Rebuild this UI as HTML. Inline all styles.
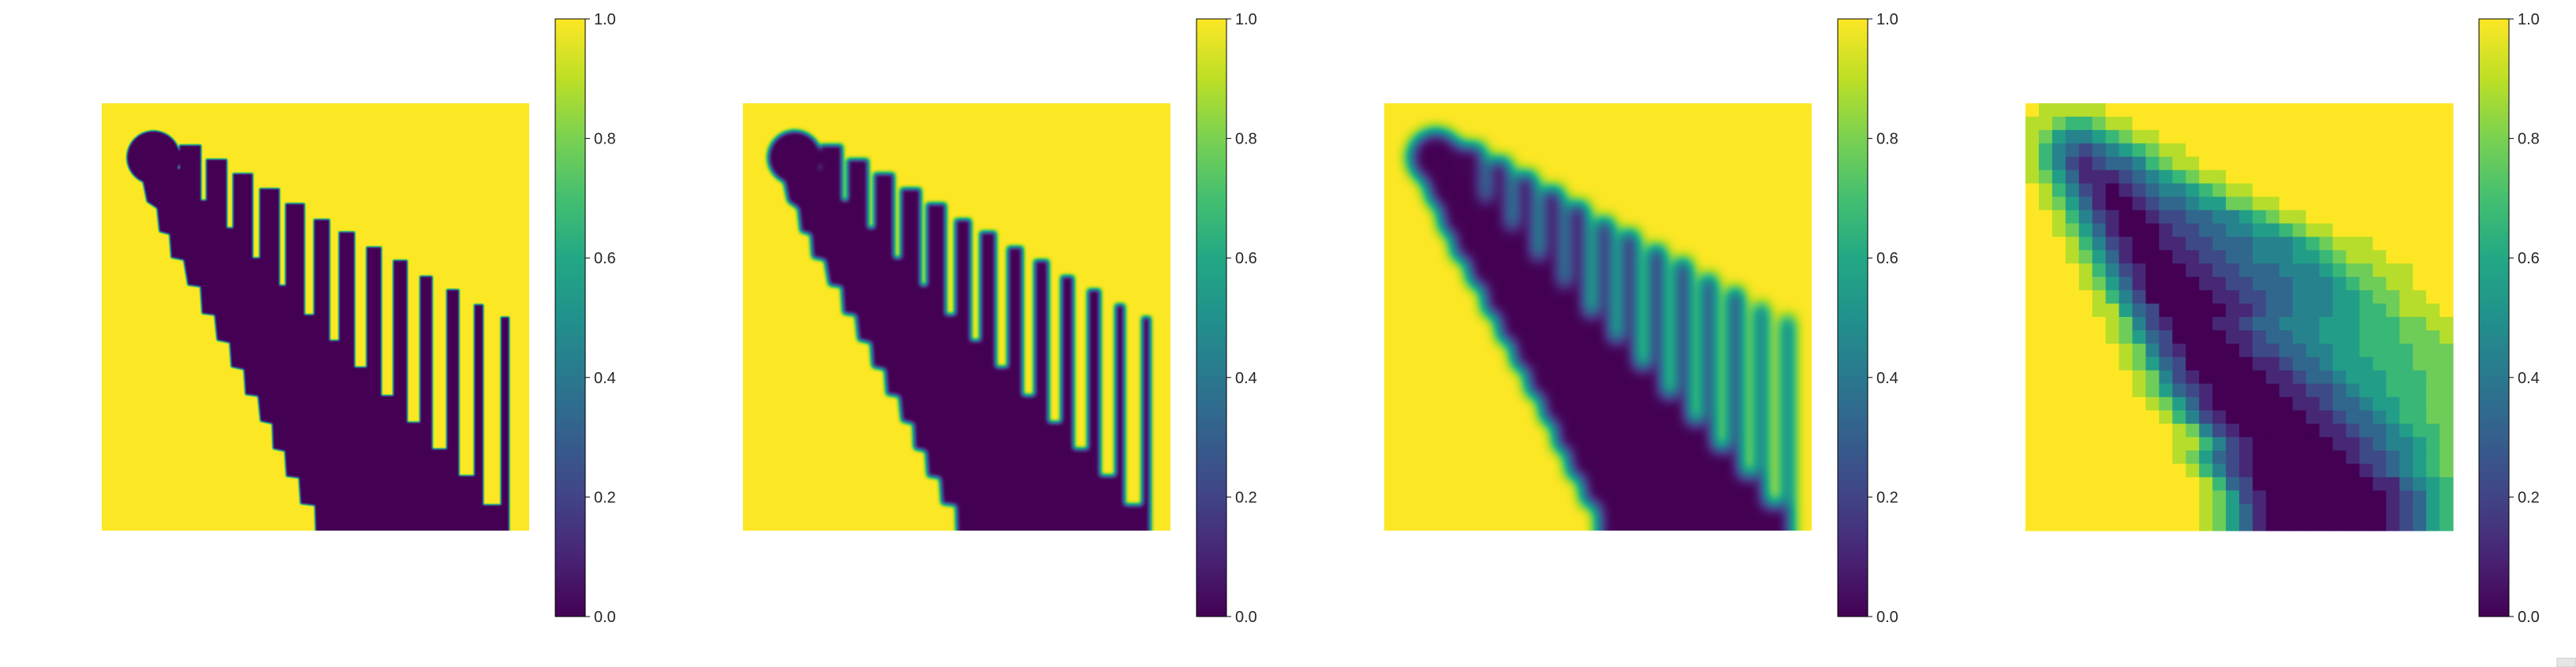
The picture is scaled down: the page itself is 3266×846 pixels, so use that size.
<!DOCTYPE html>
<html><head><meta charset="utf-8"><style>
html,body{margin:0;padding:0;background:#fff;}
svg{display:block;}
text{font-family:"Liberation Sans",sans-serif;font-size:20px;fill:#262626;}
</style></head><body>
<svg id="fig" width="3266" height="846" viewBox="0 0 3266 846" xmlns="http://www.w3.org/2000/svg">
<defs>
<linearGradient id="vir" x1="0" y1="1" x2="0" y2="0">
<stop offset="0" stop-color="#440154"/><stop offset="0.1" stop-color="#482475"/><stop offset="0.2" stop-color="#414487"/><stop offset="0.3" stop-color="#355f8d"/><stop offset="0.4" stop-color="#2a788e"/><stop offset="0.5" stop-color="#21918c"/><stop offset="0.6" stop-color="#22a884"/><stop offset="0.7" stop-color="#44bf70"/><stop offset="0.8" stop-color="#7ad151"/><stop offset="0.9" stop-color="#bddf26"/><stop offset="1" stop-color="#fde725"/>
</linearGradient>
</defs>
<rect x="3242" y="835" width="24" height="11" fill="#e6e6e6" stroke="#c8c8c8"/>
</svg>
<script>
// ---- data (image units: 0..512 grid) ----
const circleCenterX = 62, circleCenterY = 65, circleRadius = 32;
const edgeX = [49,54,66,69,81,83,98,103,118,120,135,138,153,155,170,172,187,190,204,205,219,221,236,238,255,256];
const edgeY = [93,118,126,154,157,185,188,218,220,252,254,284,287,316,319,349,351,381,384,414,417,447,449,480,482,512];
const gapLeft   = [88,119,150,181,213,243,273,303,335,366,396,428,457,488];
const gapRight  = [93,125,157,189,220,254,284,317,349,381,413,446,478,512];
const gapBottom = [78,116,149,185,218,253,284,316,350,382,414,446,481,512];
const fingerTop = [50,67,84,102,120,139,154,172,188,207,223,241,256];
const blurLevels = [1.1, 2.8, 8.5];
// coarse 32x32 field for last panel (digit d -> value d/9)
const coarseRows = [
"98888899999999999999999999999999",
"88766788999999999999999999999999",
"87544567889999999999999999999999",
"86432345678899999999999999999999",
"86421233467889999999999999999999",
"87531112345678899999999999999999",
"98642101234456788999999999999999",
"98753100123345577889999999999999",
"99864210012233445678899999999999",
"99875310001223344556788999999999",
"99986421001122333444567888999999",
"99987531000112233444556788899999",
"99998642100011223334445677888999",
"99998753100001122333444567788999",
"99999864200000112233444556778899",
"99999885320000011233444556678889",
"99999987421000112334445556667788",
"99999987532000011233445556667778",
"99999998742100001223344556666777",
"99999998753200000112334555666777",
"99999999874210000011233455566677",
"99999999875321000001122345566677",
"99999999987531000000112334556677",
"99999999998642100000011233456677",
"99999999999874210000001123345667",
"99999999999886421000000112344567",
"99999999999875321000000012234567",
"99999999999986421000000001234567",
"99999999999998632000000000113456",
"99999999999998752100000000012356",
"99999999999998753100000000012356",
"99999999999998753100000000012356"];
const tickValues = [0,0.2,0.4,0.6,0.8,1.0];
const tickLabels = ["0.0","0.2","0.4","0.6","0.8","1.0"];

const NS="http://www.w3.org/2000/svg";
const svg=document.getElementById('fig');
const defs=svg.querySelector('defs');
const panelLeft=k=>129+813*k, panelTop=131, panelSize=542;
const sc=panelSize/512;
const sx=u=>u*sc, sy=v=>v*sc;
const cbLeft=k=>704+813*k, cbTop=24, cbH=758, cbW=38;
const cbY=v=>cbTop+cbH*(1-v);
const VIR=[[68,1,84],[72,36,117],[65,68,135],[53,95,141],[42,120,142],[33,145,140],[34,168,132],[68,191,112],[122,209,81],[189,223,38],[253,231,37]];
function viridis(t){t=Math.max(0,Math.min(1,t));const f=t*10,i=Math.min(9,Math.floor(f)),r=f-i;const a=VIR[i],b=VIR[i+1];
return 'rgb('+a.map((c,j)=>Math.round(c+(b[j]-c)*r)).join(',')+')';}
function el(tag,attrs,parent){const e=document.createElementNS(NS,tag);for(const k in attrs)e.setAttribute(k,attrs[k]);(parent||svg).appendChild(e);return e;}

function shapePath(){
  let d='M'+sx(edgeX[0])+','+sy(edgeY[0]);
  for(let i=1;i<edgeX.length;i++) d+=' L'+sx(edgeX[i])+','+sy(edgeY[i]);
  d+=' L'+sx(edgeX[edgeX.length-1])+','+sy(540);
  const n=gapLeft.length;
  d+=' L'+sx(gapLeft[n-1])+','+sy(540);
  for(let k=n-2;k>=0;k--){
    d+=' L'+sx(gapLeft[k+1])+','+sy(fingerTop[k]);
    d+=' L'+sx(gapRight[k])+','+sy(fingerTop[k]);
    d+=' L'+sx(gapRight[k])+','+sy(gapBottom[k]);
    d+=' L'+sx(gapLeft[k])+','+sy(gapBottom[k]);
    d+=' L'+sx(gapLeft[k])+','+sy(fingerTop[0]);
  }
  return d+' Z';
}
const RT="0.267 0.282 0.255 0.208 0.165 0.129 0.133 0.267 0.478 0.741 0.992";
const GT="0.004 0.141 0.267 0.373 0.471 0.569 0.659 0.749 0.820 0.875 0.906";
const BT="0.329 0.459 0.529 0.553 0.557 0.549 0.518 0.439 0.318 0.149 0.145";

for(let k=0;k<3;k++){
  const f=el('filter',{id:'f'+k,x:'-0.1',y:'-0.1',width:'1.2',height:'1.2','color-interpolation-filters':'sRGB'},defs);
  el('feGaussianBlur',{stdDeviation:sx(blurLevels[k])},f);
  const ct=el('feComponentTransfer',{},f);
  el('feFuncR',{type:'table',tableValues:RT},ct);
  el('feFuncG',{type:'table',tableValues:GT},ct);
  el('feFuncB',{type:'table',tableValues:BT},ct);
  const cp=el('clipPath',{id:'c'+k},defs);
  el('rect',{x:0,y:0,width:panelSize,height:panelSize},cp);
  const outer=el('g',{transform:'translate('+panelLeft(k)+','+panelTop+')','clip-path':'url(#c'+k+')'});
  
  
  const g=el('g',{filter:'url(#f'+k+')'},outer);
  el('rect',{x:-40,y:-40,width:panelSize+80,height:panelSize+80,fill:'#fff'},g);
  const c=el('circle',{cx:sx(circleCenterX),cy:sy(circleCenterY),r:sx(circleRadius),fill:'#000'},g);
  
  
  const p=el('path',{d:shapePath(),fill:'#000'},g);
  
  
}
// panel 4 coarse grid
{
  const g=el('g',{transform:'translate('+panelLeft(3)+','+panelTop+')'});
  
  
  const nR=coarseRows.length, cs=panelSize/nR;
  coarseRows.forEach((row,r)=>{for(let c=0;c<row.length;c++){
    const v=parseInt(row[c])/9;
    const cell=el('rect',{x:(c*cs).toFixed(2),y:(r*cs).toFixed(2),width:(cs+0.6).toFixed(2),height:(cs+0.6).toFixed(2),fill:viridis(v)},g);
    
    
  }});
}
// colorbars
for(let k=0;k<4;k++){
  const g=el('g',{});
  
  
  el('rect',{x:cbLeft(k),y:cbTop,width:cbW,height:cbH,fill:'url(#vir)',stroke:'#000','stroke-width':1},g);
  tickValues.forEach((v,i)=>{
    const y=cbY(v);
    el('line',{x1:cbLeft(k)+cbW,x2:cbLeft(k)+cbW+6,y1:y,y2:y,stroke:'#000','stroke-width':1},g);
    const t=el('text',{x:cbLeft(k)+cbW+11,y:y+7},g);
    
    
    t.textContent=tickLabels[i];
  });
}
</script>
</body></html>
